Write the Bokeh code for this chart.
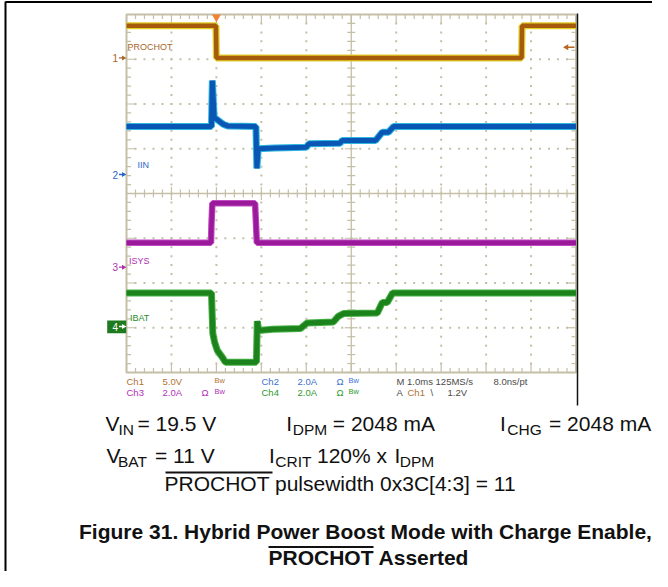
import numpy as np
from bokeh.plotting import figure
from bokeh.models import Range1d
from bokeh.core.properties import value
from bokeh.embed import file_html
from bokeh.resources import INLINE

# ---------------- data read from the scope capture ----------------
# time in ms relative to the trigger (falling edge of PROCHOT)
t_prochot = [-2.0, -0.01, 0.0, 6.79, 6.80, 8.0]
v_prochot = [3.6, 3.6, 0.0, 0.0, 3.6, 3.6]            # V

t_iin = [-2.0, -0.11, -0.09, -0.05, 0.05, 0.15, 0.25, 0.88, 0.90, 0.93,
         1.30, 2.00, 2.06, 2.75, 2.80, 3.54, 3.69, 3.83, 3.94, 8.0]
a_iin = [2.14, 2.14, 4.20, 2.55, 2.40, 2.25, 2.17, 2.14, 0.27, 1.15,
         1.18, 1.22, 1.37, 1.40, 1.52, 1.52, 1.89, 1.89, 2.14, 2.14]   # A

t_isys = [-2.0, -0.12, -0.11, -0.09, 0.86, 0.90, 8.0]
a_isys = [1.09, 1.09, 1.90, 2.86, 2.86, 1.09, 1.09]                  # A

t_ibat = [-2.0, -0.11, -0.08, -0.04, 0.02, 0.13, 0.20, 0.89, 0.91, 0.94,
          1.25, 1.87, 2.02, 2.60, 2.71, 2.83, 3.58, 3.69, 3.80, 3.92, 8.0]
a_ibat = [1.50, 1.50, -0.30, -0.70, -1.07, -1.37, -1.60, -1.60, 0.24, -0.18,
          -0.12, -0.09, 0.16, 0.20, 0.45, 0.58, 0.60, 1.07, 1.07, 1.50, 1.50]  # A

ch_names = ["PROCHOT", "IIN", "ISYS", "IBAT"]
ch_numbers = ["1", "2", "3", "4"]
ch_offset_div = [3.03, 0.425, -1.647, -2.972]
ch_per_div = [5.0, 2.0, 2.0, 2.0]
trigger_level = 1.2   # V on Ch1

info_row1 = ["Ch1", "5.0V", "Bw", "Ch2", "2.0A", "Ω", "Bw", "M 1.0ms 125MS/s", "8.0ns/pt"]
info_row2 = ["Ch3", "2.0A", "Ω", "Bw", "Ch4", "2.0A", "Ω", "Bw", "A", "Ch1", "\\", "1.2V"]

caption1 = "Figure 31. Hybrid Power Boost Mode with Charge Enable,"
caption2_over = "PROCHOT"
caption2_rest = "Asserted"

# ---------------- layout helpers (reference pixel -> data) ----------------
DW, DH = 44.95, 44.75


def fx(X):
    return -2.0 + (X - 126.0) / DW


def fy(Y):
    return 4.0 - (Y - 14.0) / DH


W, H = 652, 571
p = figure(width=W, height=H, output_backend="svg", toolbar_location=None,
           x_range=Range1d(fx(0), fx(W)), y_range=Range1d(fy(H), fy(0)),
           x_axis_location=None, y_axis_location=None, title=None,
           min_border=0, outline_line_color=None,
           background_fill_color="white", border_fill_color="white")
p.grid.visible = False

FONT = value("Liberation Sans")


def T(X, B, s, size, color, align="left", bold=False):
    # B = wanted baseline (pixels); text is placed by its middle
    p.text(x=[fx(X)], y=[fy(B - 0.36 * size)], text=[s], text_font=FONT,
           text_font_size=f"{size}px", text_color=color, text_align=align,
           text_baseline="middle", text_font_style="bold" if bold else "normal")


GRID = "#C4BFA6"

# ---------------- graticule ----------------
dx, dy = [], []
for xi in [-1, 0, 1, 2, 4, 5, 6, 7]:
    for yv in np.arange(-3.8, 3.81, 0.2):
        dx.append(xi); dy.append(yv)
for yi in [-3, -2, -1, 1, 2, 3]:
    for xv in np.arange(-1.8, 7.81, 0.2):
        dx.append(xv); dy.append(yi)
p.scatter(dx, dy, marker="square", size=2, fill_color=GRID, line_color=None)

x0s, y0s, x1s, y1s = [], [], [], []
for xv in np.arange(-2.0, 8.001, 0.2):
    major = abs(xv - round(xv)) < 1e-6
    L = (9.0 if major else 4.5) / DH
    x0s += [xv, xv]; x1s += [xv, xv]
    y0s += [4.0, -4.0]; y1s += [4.0 - L, -4.0 + L]
    h = (6.5 if major else 4.0) / DH
    x0s.append(xv); x1s.append(xv); y0s.append(-h); y1s.append(h)
for yv in np.arange(-4.0, 4.001, 0.2):
    major = abs(yv - round(yv)) < 1e-6
    L = (9.0 if major else 4.5) / DW
    y0s += [yv, yv]; y1s += [yv, yv]
    x0s += [-2.0, 8.0]; x1s += [-2.0 + L, 8.0 - L]
    w = (6.5 if major else 4.0) / DW
    y0s.append(yv); y1s.append(yv); x0s.append(3.0 - w); x1s.append(3.0 + w)
p.segment(x0s, y0s, x1s, y1s, line_color=GRID, line_width=1.2)
p.segment([-2.0, 3.0], [0.0, -4.0], [8.0, 3.0], [0.0, 4.0], line_color=GRID, line_width=1.3)
p.quad(left=[-2.0], right=[8.0], bottom=[-4.0], top=[4.0], fill_color=None,
       line_color=GRID, line_width=2)

# ---------------- traces ----------------
def to_div(vals, ch):
    return [ch_offset_div[ch] + v / ch_per_div[ch] for v in vals]


p.line(t_prochot, to_div(v_prochot, 0), line_color="#E2CF2A", line_width=7)
p.line(t_prochot, to_div(v_prochot, 0), line_color="#A65A0C", line_width=4.5)
p.line(t_iin, to_div(a_iin, 1), line_color="#2FB7E0", line_width=7)
p.line(t_iin, to_div(a_iin, 1), line_color="#0A56B4", line_width=5)
p.line(t_isys, to_div(a_isys, 2), line_color="#C24AC2", line_width=6.5)
p.line(t_isys, to_div(a_isys, 2), line_color="#9A189A", line_width=4.5)
p.line(t_ibat, to_div(a_ibat, 3), line_color="#45B045", line_width=7)
p.line(t_ibat, to_div(a_ibat, 3), line_color="#1C821C", line_width=5)

# trigger position / level markers
p.scatter([0.0], [fy(16.5)], marker="inverted_triangle", size=9,
          fill_color="#F08232", line_color=None)
lvl = ch_offset_div[0] + trigger_level / ch_per_div[0]
p.segment([fx(566)], [lvl], [fx(574)], [lvl], line_color="#B8641E", line_width=1.5)
p.scatter([fx(566)], [lvl], marker="triangle", angle=np.pi / 2, size=6,
          fill_color="#B8641E", line_color=None)

# channel labels and ground markers
CH_COL = ["#A8662A", "#2A64C8", "#B02CB0", "#2A8C2A"]
lab_pos = [(127, 50), (137, 167.7), (128.5, 264), (129.5, 320.7)]
for i in range(4):
    T(lab_pos[i][0], lab_pos[i][1], ch_names[i], 9, CH_COL[i])

p.quad(left=[fx(106.7)], right=[fx(125.7)], bottom=[fy(332.7)], top=[fy(320)],
       fill_color="#1E7A1E", line_color=None)
for i in range(4):
    yv = ch_offset_div[i]
    col = "white" if i == 3 else CH_COL[i]
    T(117.5, 14 + (4 - yv) * DH + 3.8, ch_numbers[i], 10, col, align="right")
    p.segment([fx(118.5)], [yv], [fx(123)], [yv], line_color=col, line_width=1.3)
    p.scatter([fx(123)], [yv], marker="triangle", angle=-np.pi / 2, size=5,
              fill_color=col, line_color=None)

# right edge of the screen capture
p.segment([fx(577)], [fy(13)], [fx(577)], [fy(405)], line_color="#111111", line_width=1.5)

# ---------------- scope readout ----------------
C1, C2, C3, C4, GR = "#B07434", "#3A72D0", "#B030B8", "#2E9A2E", "#4A4A4A"
row1_x = [126, 162, 214, 261, 297, 336, 348, 396, 493]
row1_c = [C1, C1, C1, C2, C2, C2, C2, GR, GR]
row2_x = [126, 162, 201, 214, 261, 297, 336, 348, 396, 407, 430, 447]
row2_c = [C3, C3, C3, C3, C4, C4, C4, C4, GR, C1, GR, GR]
for s, xx, c in zip(info_row1, row1_x, row1_c):
    if s == "Bw":
        T(xx, 382.7, s, 7.5, c)
    else:
        T(xx, 384, s, 9.5, c)
for s, xx, c in zip(info_row2, row2_x, row2_c):
    if s == "Bw":
        T(xx, 393.7, s, 7.5, c)
    else:
        T(xx, 395, s, 9.5, c)

# ---------------- test conditions ----------------
K = "#111111"
MS, SS = 21, 15.5
T(105, 431, "V", MS, K); T(118, 435, "IN", SS, K); T(137, 431, "= 19.5 V", MS, K)
T(285.7, 431, "I", MS, K); T(292.3, 435, "DPM", SS, K); T(332.3, 431, "= 2048 mA", MS, K)
T(499.5, 431, "I", MS, K); T(506.8, 435, "CHG", SS, K); T(548.5, 431, "= 2048 mA", MS, K)
T(106, 463, "V", MS, K); T(117.5, 467, "BAT", SS, K); T(154.5, 463, "= 11 V", MS, K)
T(268.5, 463, "I", MS, K); T(274.8, 467, "CRIT", SS, K); T(316.5, 463, "120% x", MS, K)
T(394, 463, "I", MS, K); T(399.3, 467, "DPM", SS, K)
T(164, 491, "PROCHOT pulsewidth 0x3C[4:3] = 11", MS, K)
p.segment([fx(165)], [fy(472)], [fx(272)], [fy(472)], line_color=K, line_width=2)

# ---------------- caption ----------------
T(365, 539, caption1, 21, K, align="center", bold=True)
T(268, 565, caption2_over + " " + caption2_rest, 21, K, bold=True)
p.segment([fx(268)], [fy(546.5)], [fx(373)], [fy(546.5)], line_color=K, line_width=2)

# outer frame (top and left)
p.segment([fx(5), fx(5)], [fy(1.5), fy(1)], [fx(652), fx(5)], [fy(1.5), fy(571)],
          line_color="#000000", line_width=2)

open("out.html", "w").write(file_html(p, INLINE))
